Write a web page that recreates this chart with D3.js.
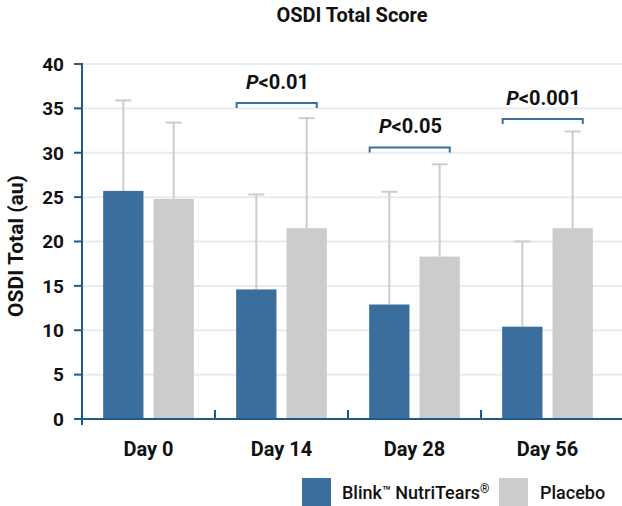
<!DOCTYPE html>
<html><head><meta charset="utf-8">
<script src="https://cdn.jsdelivr.net/npm/d3@7"></script>
<style>body{margin:0;background:#fff;font-family:Roboto,"Noto Sans",sans-serif;}</style>
</head><body><svg id="c" width="622" height="506"></svg>
<script>
const categories = ["Day 0", "Day 14", "Day 28", "Day 56"];
const seriesNames = ["Blink\u2122 NutriTears\u00AE", "Placebo"];
const blinkValues = [25.7, 14.6, 12.9, 10.4];
const blinkSD = [10.2, 10.7, 12.7, 9.6];
const placeboValues = [24.8, 21.5, 18.3, 21.5];
const placeboSD = [8.6, 12.4, 10.4, 10.9];
const yTicks = [0, 5, 10, 15, 20, 25, 30, 35, 40];
const sigLabels = [null, "0.01", "0.05", "0.001"];
const sigLevels = [null, 35.6, 30.6, 33.8];

const colors = ["#3a6e9c", "#cccccc"];
const axisColor = "#1d5a8c";
const svg = d3.select("#c");
const y = d3.scaleLinear().domain([0, 40]).range([419, 64]);
const x = d3.scaleBand().domain(categories).range([82, 614]).paddingInner(0).paddingOuter(0);
const x1 = d3.scaleBand().domain([0, 1]).range([0, x.bandwidth()]).paddingInner(0.2).paddingOuter(0.42);

// grid
svg.append("g").selectAll("line").data(yTicks.filter(d => d > 0)).join("line")
  .attr("x1", 82).attr("x2", 622).attr("y1", d => y(d)).attr("y2", d => y(d))
  .attr("stroke", "#e6ecf2").attr("stroke-width", 2);

// title
svg.append("text").attr("x", 352).attr("y", 22).attr("text-anchor", "middle")
  .attr("font-size", 20).attr("font-weight", 700).attr("fill", "#111").text("OSDI Total Score");

// y label
svg.append("text").attr("transform", "translate(23,246) rotate(-90)").attr("text-anchor", "middle")
  .attr("font-size", 21).attr("font-weight", 700).attr("fill", "#111").text("OSDI Total (au)");

const data = categories.map((c, i) => ({c, vals: [
  {s: 0, v: blinkValues[i], sd: blinkSD[i]},
  {s: 1, v: placeboValues[i], sd: placeboSD[i]}]}));

const g = svg.append("g").selectAll("g").data(data).join("g")
  .attr("transform", d => `translate(${x(d.c)},0)`);

// error bars
g.selectAll("line.eb").data(d => d.vals).join("line").attr("class", "eb")
  .attr("x1", d => x1(d.s) + x1.bandwidth()/2).attr("x2", d => x1(d.s) + x1.bandwidth()/2)
  .attr("y1", d => y(d.v)).attr("y2", d => y(d.v + d.sd))
  .attr("stroke", "#cccccc").attr("stroke-width", 2);
g.selectAll("line.cap").data(d => d.vals).join("line").attr("class", "cap")
  .attr("x1", d => x1(d.s) + x1.bandwidth()/2 - 8).attr("x2", d => x1(d.s) + x1.bandwidth()/2 + 8)
  .attr("y1", d => y(d.v + d.sd)).attr("y2", d => y(d.v + d.sd))
  .attr("stroke", "#cccccc").attr("stroke-width", 2);

// bars
g.selectAll("rect").data(d => d.vals).join("rect")
  .attr("x", d => x1(d.s)).attr("width", x1.bandwidth())
  .attr("y", d => y(d.v)).attr("height", d => y(0) - y(d.v))
  .attr("fill", d => colors[d.s]);

// axes
svg.append("line").attr("x1", 82).attr("x2", 82).attr("y1", 63).attr("y2", 425)
  .attr("stroke", axisColor).attr("stroke-width", 2);
svg.append("line").attr("x1", 74).attr("x2", 622).attr("y1", 419).attr("y2", 419)
  .attr("stroke", axisColor).attr("stroke-width", 2);
svg.append("g").selectAll("line").data(yTicks).join("line")
  .attr("x1", 74).attr("x2", 82).attr("y1", d => y(d)).attr("y2", d => y(d))
  .attr("stroke", axisColor).attr("stroke-width", 2);
svg.append("g").selectAll("text").data(yTicks).join("text")
  .attr("x", 64).attr("y", d => y(d)).attr("dy", "0.36em").attr("text-anchor", "end")
  .attr("font-size", 19).attr("font-weight", 700).attr("fill", "#111").text(d => d);
svg.append("g").selectAll("line").data(categories.slice(1)).join("line")
  .attr("x1", d => x(d)).attr("x2", d => x(d)).attr("y1", 410).attr("y2", 419)
  .attr("stroke", axisColor).attr("stroke-width", 2);
svg.append("g").selectAll("text").data(categories).join("text")
  .attr("x", d => x(d) + x.bandwidth()/2).attr("y", 456).attr("text-anchor", "middle")
  .attr("font-size", 20).attr("font-weight", 700).attr("fill", "#111").text(d => d);

// significance brackets
const sig = categories.map((c, i) => ({c, lab: sigLabels[i], lev: sigLevels[i]})).filter(d => d.lab);
const sg = svg.append("g").selectAll("g").data(sig).join("g")
  .attr("transform", d => `translate(${x(d.c)},0)`);
sg.append("path")
  .attr("d", d => {
    const a = x1(0) + 0.5, b = x1(1) + x1.bandwidth()*0.75, yy = y(d.lev);
    return `M${a},${yy+5}V${yy}H${b}V${yy+5}`;
  })
  .attr("fill", "none").attr("stroke", "#3a6e9c").attr("stroke-width", 2);
const st = sg.append("text")
  .attr("x", d => (x1(0) + x1(1) + x1.bandwidth()*0.75) / 2 + 1)
  .attr("y", d => y(d.lev) - 14).attr("text-anchor", "middle")
  .attr("font-size", 20).attr("font-weight", 700).attr("fill", "#111");
st.append("tspan").attr("font-style", "italic").text("P");
st.append("tspan").text(d => "<" + d.lab);

// legend
const leg = svg.append("g");
const legX = [302, 499];
seriesNames.forEach((n, i) => {
  leg.append("rect").attr("x", legX[i]).attr("y", 478).attr("width", 29).attr("height", 28).attr("fill", colors[i]);
});
const t0 = leg.append("text").attr("x", 342).attr("y", 499).attr("font-size", 18).attr("font-weight", 500).attr("fill", "#111");
t0.append("tspan").text("Blink");
t0.append("tspan").attr("font-size", 14).attr("dy", -3).text("\u2122");
t0.append("tspan").attr("dy", 3).text(" NutriTears");
t0.append("tspan").attr("font-size", 12).attr("dy", -6).text("\u00AE");
leg.append("text").attr("x", 540).attr("y", 499).attr("font-size", 18).attr("font-weight", 500).attr("fill", "#111").text(seriesNames[1]);
</script></body></html>
